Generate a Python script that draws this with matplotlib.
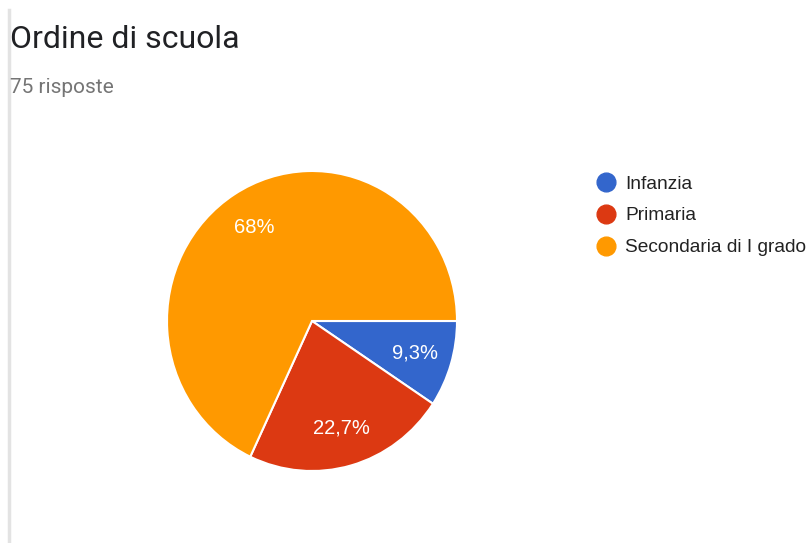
import matplotlib.pyplot as plt
from matplotlib.lines import Line2D

# Dati del grafico
categorie = ['Infanzia', 'Primaria', 'Secondaria di I grado']
percentuali = [9.3, 22.7, 68.0]
etichette = ['9,3%', '22,7%', '68%']
colori = ['#3366cc', '#dc3912', '#ff9900']

plt.rcParams['font.family'] = ['Roboto', 'DejaVu Sans']
arial = ['Liberation Sans', 'DejaVu Sans']

W, H = 812, 543
fig = plt.figure(figsize=(W / 100, H / 100), dpi=100)

# Bordo grigio a sinistra
fig.add_artist(Line2D([9.5 / W, 9.5 / W], [0, 1 - 10 / H], color='#e3e3e3', lw=2.5))

# Titolo e sottotitolo
fig.text(10 / W, 1 - 48 / H, 'Ordine di scuola', fontsize=23, color='#202124')
fig.text(10 / W, 1 - 93 / H, '75 risposte', fontsize=15, color='#757575')

# Torta (leggermente schiacciata come nell'immagine)
cx, cy, rx, ry = 312, 321, 145, 150
ax = fig.add_axes([(cx - rx) / W, (H - cy - ry) / H, 2 * rx / W, 2 * ry / H])
wedges, testi = ax.pie(percentuali, colors=colori, startangle=0, counterclock=False,
                       labels=etichette, labeldistance=0.74,
                       wedgeprops=dict(edgecolor='white', linewidth=1.5),
                       textprops=dict(color='white', fontsize=14.5, family=arial,
                                      ha='center', va='center'))
ax.set_aspect('auto')
ax.set_xlim(-1, 1)
ax.set_ylim(-1, 1)
ax.axis('off')

# Legenda
for i, (nome, c) in enumerate(zip(categorie, colori)):
    yp = 182 + 32 * i
    fig.add_artist(Line2D([606 / W], [1 - yp / H], marker='o', markersize=13.5,
                          markerfacecolor=c, markeredgecolor=c, linestyle=''))
    fig.text(625 / W, 1 - (yp + 6.5) / H, nome, fontsize=13.8, family=arial,
             color='#222222', va='baseline')

fig.savefig('out.png', dpi=100, facecolor='white')
